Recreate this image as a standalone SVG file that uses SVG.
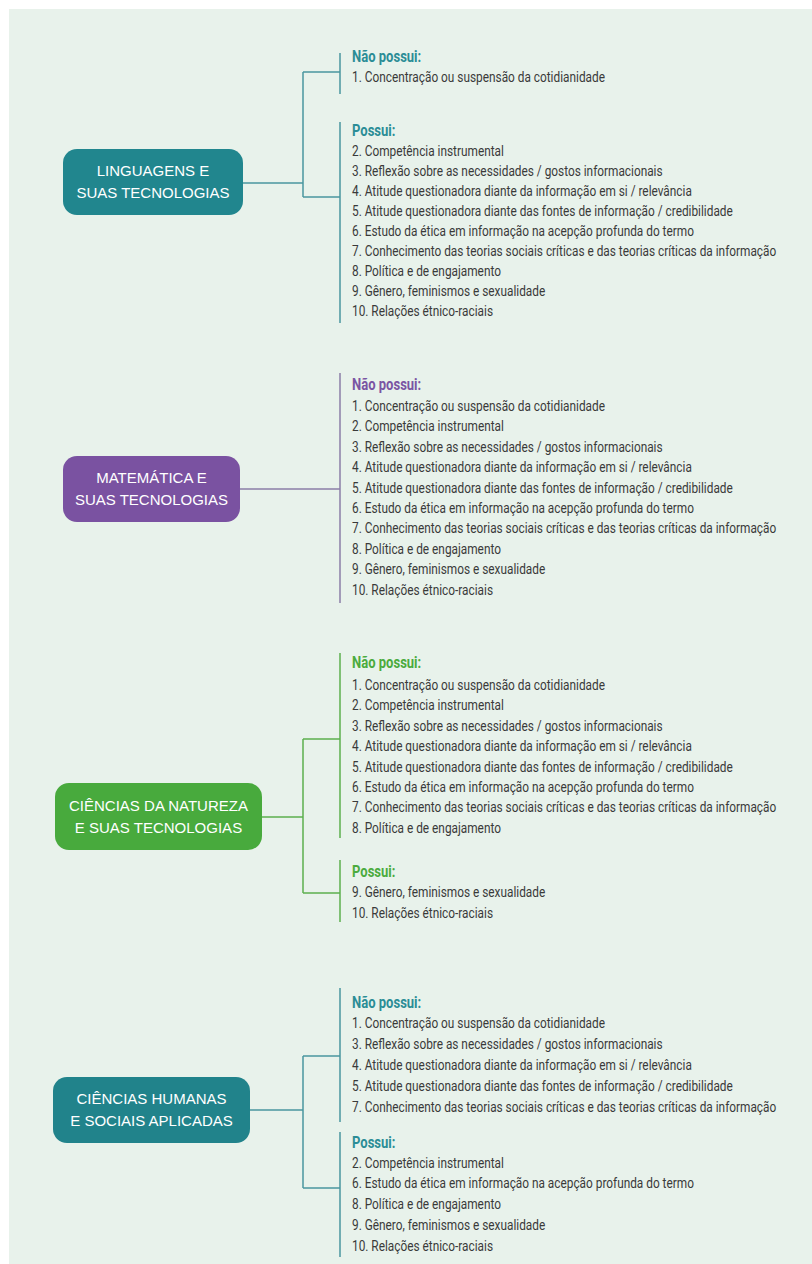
<svg xmlns="http://www.w3.org/2000/svg" width="812" height="1264" viewBox="0 0 812 1264">
<style>
.box-t{font-family:"Liberation Sans",Arial,sans-serif;font-size:15px;fill:#ffffff;text-anchor:middle}
.li{font-family:Roboto,"Liberation Sans",sans-serif;font-size:15px;fill:#3a3a3a}
.hd{font-family:Roboto,"Liberation Sans",sans-serif;font-size:16.5px;font-weight:bold}
.teal{fill:#2b8d96}
.purple{fill:#7a55a3}
.green{fill:#4bab3e}
.c-teal{stroke:#4a96a0;stroke-width:1.5;fill:none}
.c-purple{stroke:#8b7fa8;stroke-width:1.5;fill:none}
.c-green{stroke:#5cb04f;stroke-width:1.5;fill:none}
</style>
<rect x="0" y="0" width="812" height="1264" fill="#ffffff"/>
<rect x="9" y="9" width="803" height="1255" fill="#e8f2eb"/>

<g id="connectors">
  <path class="c-teal" d="M243 183 H303 M303 72 V197 M303 72 H340 M303 197 H340 M340 53 V94 M340 122 V323"/>
  <path class="c-purple" d="M240 489 H340 M340 373 V603"/>
  <path class="c-green" d="M262 817 H303 M303 739 V893 M303 739 H340 M303 893 H340 M340 653 V838 M340 860 V922"/>
  <path class="c-teal" d="M250 1110 H303 M303 1056 V1188 M303 1056 H340 M303 1188 H340 M340 988 V1122 M340 1132 V1257"/>
</g>

<g id="node-linguagens">
  <rect x="63" y="149" width="180" height="66" rx="14" fill="#21868e"/>
  <text class="box-t" x="153" y="176">LINGUAGENS E</text>
  <text class="box-t" x="153" y="198">SUAS TECNOLOGIAS</text>
</g>
<g id="list-linguagens" transform="translate(352,0) scale(0.79,1)">
  <text class="hd teal" x="0" y="62">Não possui:</text>
  <text class="li" x="0" y="82">1. Concentração ou suspensão da cotidianidade</text>
  <text class="hd teal" x="0" y="136">Possui:</text>
  <text class="li" x="0" y="156">2. Competência instrumental</text>
  <text class="li" x="0" y="176">3. Reflexão sobre as necessidades / gostos informacionais</text>
  <text class="li" x="0" y="196">4. Atitude questionadora diante da informação em si / relevância</text>
  <text class="li" x="0" y="216">5. Atitude questionadora diante das fontes de informação / credibilidade</text>
  <text class="li" x="0" y="236">6. Estudo da ética em informação na acepção profunda do termo</text>
  <text class="li" x="0" y="256">7. Conhecimento das teorias sociais críticas e das teorias críticas da informação</text>
  <text class="li" x="0" y="276">8. Política e de engajamento</text>
  <text class="li" x="0" y="296">9. Gênero, feminismos e sexualidade</text>
  <text class="li" x="0" y="316">10. Relações étnico-raciais</text>
</g>

<g id="node-matematica">
  <rect x="63" y="456" width="177" height="66" rx="14" fill="#7a52a1"/>
  <text class="box-t" x="151.5" y="483">MATEMÁTICA E</text>
  <text class="box-t" x="151.5" y="505">SUAS TECNOLOGIAS</text>
</g>
<g id="list-matematica" transform="translate(352,0) scale(0.79,1)">
  <text class="hd purple" x="0" y="390">Não possui:</text>
  <text class="li" x="0" y="411">1. Concentração ou suspensão da cotidianidade</text>
  <text class="li" x="0" y="431.4">2. Competência instrumental</text>
  <text class="li" x="0" y="451.8">3. Reflexão sobre as necessidades / gostos informacionais</text>
  <text class="li" x="0" y="472.2">4. Atitude questionadora diante da informação em si / relevância</text>
  <text class="li" x="0" y="492.6">5. Atitude questionadora diante das fontes de informação / credibilidade</text>
  <text class="li" x="0" y="513">6. Estudo da ética em informação na acepção profunda do termo</text>
  <text class="li" x="0" y="533.4">7. Conhecimento das teorias sociais críticas e das teorias críticas da informação</text>
  <text class="li" x="0" y="553.8">8. Política e de engajamento</text>
  <text class="li" x="0" y="574.2">9. Gênero, feminismos e sexualidade</text>
  <text class="li" x="0" y="594.6">10. Relações étnico-raciais</text>
</g>

<g id="node-natureza">
  <rect x="55" y="783" width="207" height="67" rx="14" fill="#48aa3d"/>
  <text class="box-t" x="158.5" y="811">CIÊNCIAS DA NATUREZA</text>
  <text class="box-t" x="158.5" y="833">E SUAS TECNOLOGIAS</text>
</g>
<g id="list-natureza" transform="translate(352,0) scale(0.79,1)">
  <text class="hd green" x="0" y="668">Não possui:</text>
  <text class="li" x="0" y="690">1. Concentração ou suspensão da cotidianidade</text>
  <text class="li" x="0" y="710.4">2. Competência instrumental</text>
  <text class="li" x="0" y="730.8">3. Reflexão sobre as necessidades / gostos informacionais</text>
  <text class="li" x="0" y="751.2">4. Atitude questionadora diante da informação em si / relevância</text>
  <text class="li" x="0" y="771.6">5. Atitude questionadora diante das fontes de informação / credibilidade</text>
  <text class="li" x="0" y="792">6. Estudo da ética em informação na acepção profunda do termo</text>
  <text class="li" x="0" y="812.4">7. Conhecimento das teorias sociais críticas e das teorias críticas da informação</text>
  <text class="li" x="0" y="832.8">8. Política e de engajamento</text>
  <text class="hd green" x="0" y="877">Possui:</text>
  <text class="li" x="0" y="897">9. Gênero, feminismos e sexualidade</text>
  <text class="li" x="0" y="918">10. Relações étnico-raciais</text>
</g>

<g id="node-humanas">
  <rect x="53" y="1077" width="197" height="66" rx="14" fill="#21838b"/>
  <text class="box-t" x="151.5" y="1104">CIÊNCIAS HUMANAS</text>
  <text class="box-t" x="151.5" y="1126">E SOCIAIS APLICADAS</text>
</g>
<g id="list-humanas" transform="translate(352,0) scale(0.79,1)">
  <text class="hd teal" x="0" y="1008">Não possui:</text>
  <text class="li" x="0" y="1028">1. Concentração ou suspensão da cotidianidade</text>
  <text class="li" x="0" y="1049">3. Reflexão sobre as necessidades / gostos informacionais</text>
  <text class="li" x="0" y="1070">4. Atitude questionadora diante da informação em si / relevância</text>
  <text class="li" x="0" y="1091">5. Atitude questionadora diante das fontes de informação / credibilidade</text>
  <text class="li" x="0" y="1112">7. Conhecimento das teorias sociais críticas e das teorias críticas da informação</text>
  <text class="hd teal" x="0" y="1148">Possui:</text>
  <text class="li" x="0" y="1168">2. Competência instrumental</text>
  <text class="li" x="0" y="1188">6. Estudo da ética em informação na acepção profunda do termo</text>
  <text class="li" x="0" y="1209">8. Política e de engajamento</text>
  <text class="li" x="0" y="1230">9. Gênero, feminismos e sexualidade</text>
  <text class="li" x="0" y="1251">10. Relações étnico-raciais</text>
</g>
</svg>
